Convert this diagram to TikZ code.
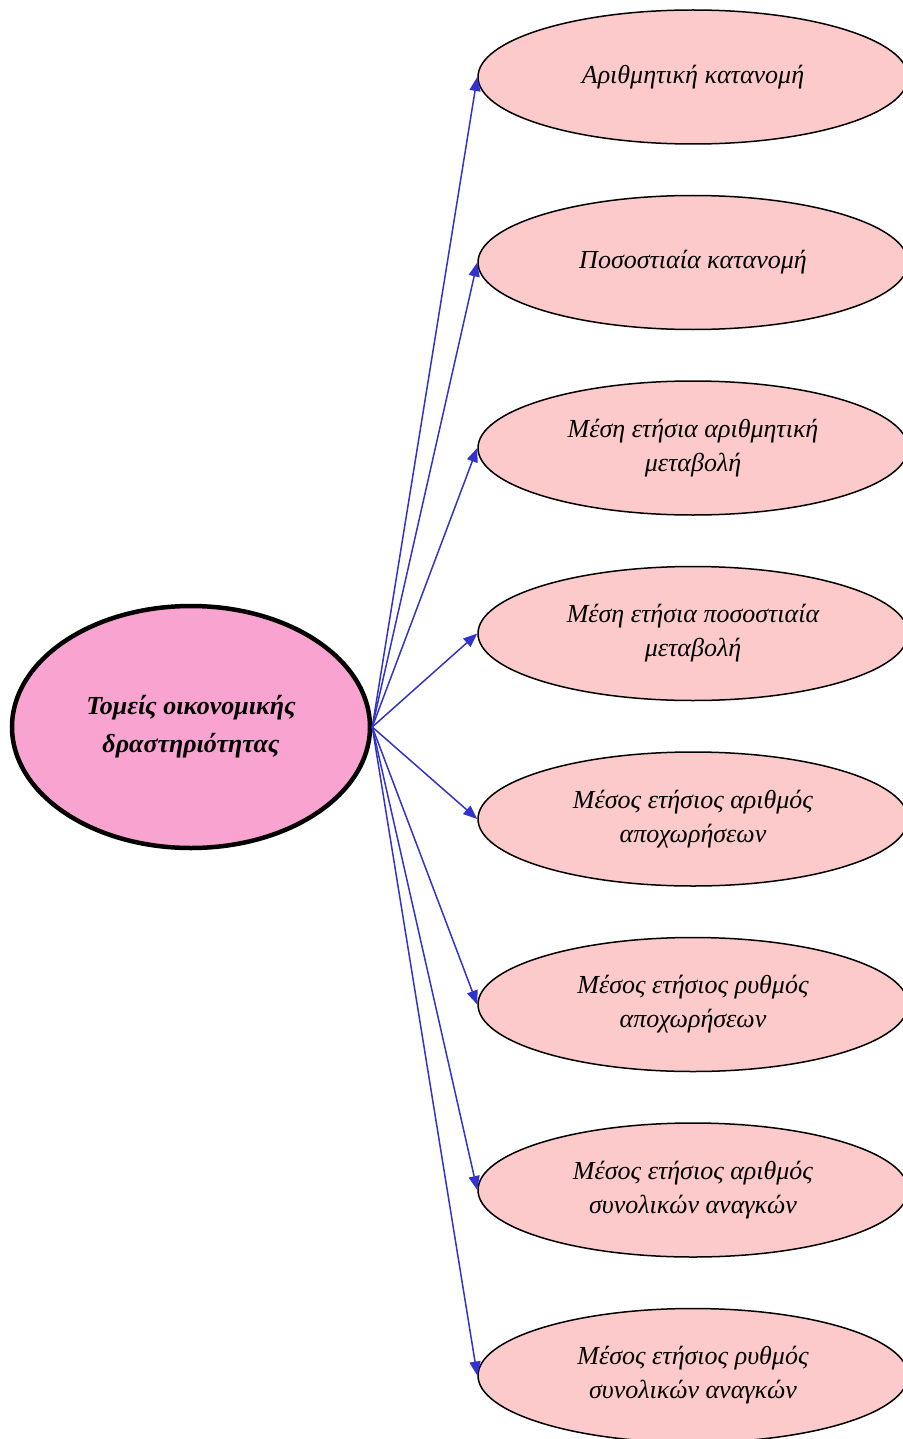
\documentclass[tikz,border=0pt]{standalone}
\usepackage{fontspec}
\setmainfont{Liberation Serif}
\usepackage{tikz}
\usetikzlibrary{arrows.meta}
\usetikzlibrary{shapes.geometric,positioning}

\definecolor{rootpink}{HTML}{F9A3D1}
\definecolor{leafpink}{HTML}{FCCACA}
\definecolor{linkblue}{HTML}{3333CC}

\tikzset{
  root/.style={ellipse, draw=black, line width=4.5pt, fill=rootpink, minimum width=358pt, minimum height=242pt, inner sep=0pt, align=center, font=\fontsize{26}{38}\selectfont\bfseries\itshape},
  leaf/.style={ellipse, draw=black, line width=1.5pt, fill=leafpink, minimum width=430pt, minimum height=134pt, inner sep=0pt, align=center, font=\fontsize{26}{34}\selectfont\itshape},
  link/.style={draw=linkblue, line width=1.5pt, -{Triangle[length=14pt,width=11pt]}}
}

\begin{document}
\begin{tikzpicture}[x=1pt,y=1pt]
    \useasboundingbox (0,0) rectangle (902,-1439);
    \node [root] (sectors) at (191,-727) {Τομείς οικονομικής\\δραστηριότητας};

    \node [leaf] (arith) at (693,-77) {Αριθμητική κατανομή};
    \node [leaf, below=50pt of arith] (perc) {Ποσοστιαία κατανομή};
    \node [leaf, below=50pt of perc] (avgarith) {Μέση ετήσια αριθμητική\\μεταβολή};
    \node [leaf, below=50pt of avgarith] (avgperc) {Μέση ετήσια ποσοστιαία\\μεταβολή};
    \node [leaf, below=50pt of avgperc] (numret) {Μέσος ετήσιος αριθμός\\αποχωρήσεων};
    \node [leaf, below=50pt of numret] (rateret) {Μέσος ετήσιος ρυθμός\\αποχωρήσεων};
    \node [leaf, below=50pt of rateret] (numneed) {Μέσος ετήσιος αριθμός\\συνολικών αναγκών};
    \node [leaf, below=50pt of numneed] (rateneed) {Μέσος ετήσιος ρυθμός\\συνολικών αναγκών};

    \foreach \n in {arith,perc,avgarith,avgperc,numret,rateret,numneed,rateneed}
        \draw [link] (sectors.east) -- (\n.west);
\end{tikzpicture}
\end{document}
